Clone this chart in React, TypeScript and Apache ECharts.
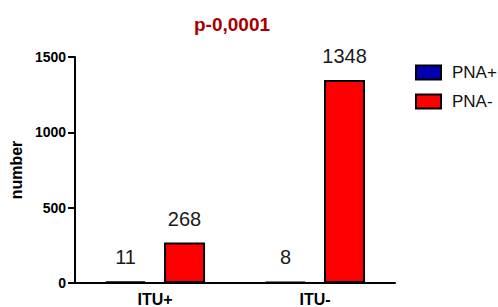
import React, { useEffect, useRef } from "react";
import * as echarts from "echarts";

const categories = ["ITU+", "ITU-"];
const seriesNames = ["PNA+", "PNA-"];
const pnaPlus = [11, 8];
const pnaMinus = [268, 1348];
const yTicks = { min: 0, max: 1500, interval: 500 };
const titleText = "p-0,0001";
const yName = "number";

const FONT = "'Liberation Sans', Arial, sans-serif";

export default function App() {
  const ref = useRef<HTMLDivElement>(null);
  useEffect(() => {
    document.body.style.margin = "0";
    document.body.style.overflow = "hidden";
    const chart = echarts.init(ref.current!, null, { renderer: "svg" });
    const label = {
      show: true,
      position: "top" as const,
      distance: 14,
      color: "#1a1a1a",
      fontSize: 20,
      fontFamily: FONT,
    };
    chart.setOption({
      animation: false,
      backgroundColor: "#ffffff",
      title: {
        text: titleText,
        left: 189,
        top: 10,
        textStyle: {
          color: "#a50000",
          fontSize: 19,
          fontWeight: "bold",
          fontFamily: FONT,
        },
      },
      legend: {
        data: seriesNames,
        orient: "vertical",
        left: 415,
        top: 64,
        padding: 0,
        itemWidth: 25,
        itemHeight: 14,
        itemGap: 12,
        icon: "rect",
        textStyle: {
          fontSize: 17,
          color: "#111",
          fontFamily: FONT,
          padding: [0, 0, 0, 6],
        },
      },
      grid: { left: 73, right: 103, top: 57, bottom: 24, containLabel: false },
      xAxis: {
        type: "category",
        data: categories,
        axisLine: { lineStyle: { color: "#000", width: 2 } },
        axisTick: { alignWithLabel: true, length: 5, lineStyle: { color: "#000", width: 2 } },
        axisLabel: {
          color: "#000",
          fontWeight: "bold",
          fontSize: 16,
          fontFamily: FONT,
          margin: 8,
        },
      },
      yAxis: {
        type: "value",
        min: yTicks.min,
        max: yTicks.max,
        interval: yTicks.interval,
        name: yName,
        nameLocation: "middle",
        nameRotate: 90,
        nameGap: 50,
        nameTextStyle: { color: "#000", fontWeight: "bold", fontSize: 16, fontFamily: FONT },
        splitLine: { show: false },
        axisLine: { show: true, lineStyle: { color: "#000", width: 2 } },
        axisTick: { show: true, length: 7, lineStyle: { color: "#000", width: 2 } },
        axisLabel: {
          color: "#000",
          fontWeight: "bold",
          fontSize: 14,
          fontFamily: FONT,
          margin: 9,
          formatter: (v: number) => String(v),
        },
      },
      series: [
        {
          name: seriesNames[0],
          type: "bar",
          data: pnaPlus,
          barWidth: 41,
          barGap: "44%",
          itemStyle: { color: "#0000b0", borderColor: "#000", borderWidth: 2 },
          label,
        },
        {
          name: seriesNames[1],
          type: "bar",
          data: pnaMinus,
          barWidth: 41,
          itemStyle: { color: "#ff0000", borderColor: "#000", borderWidth: 2 },
          label,
        },
      ],
    });
    return () => chart.dispose();
  }, []);
  return (
    <div
      ref={ref}
      style={{ position: "absolute", left: 0, top: 0, width: 498, height: 307 }}
    />
  );
}
